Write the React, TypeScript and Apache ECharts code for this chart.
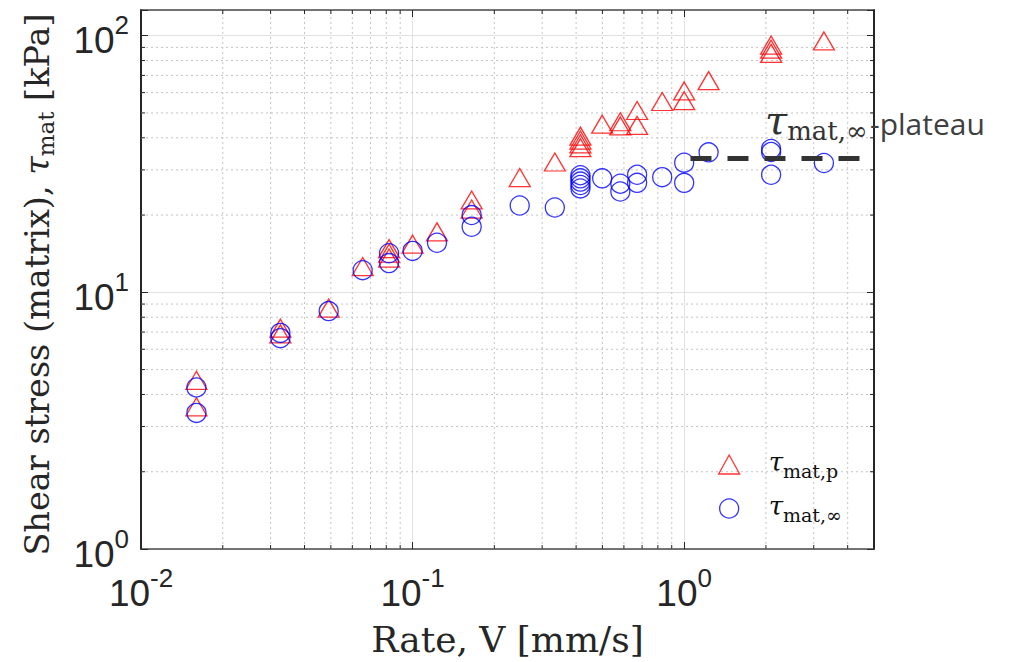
import React, { useEffect, useRef } from 'react';
import * as echarts from 'echarts';

// ---- axis ranges ----
const X_MIN = 0.01;
const X_MAX = 5;
const Y_MIN = 1;
const Y_MAX = 125.89;

// ---- data: peak matrix shear stress (triangles) ----
const rateP = [
  0.016, 0.016, 0.0326, 0.0326, 0.0491, 0.0655, 0.0819, 0.0819, 0.0819, 0.1, 0.123,
  0.165, 0.165, 0.248, 0.334, 0.415, 0.415, 0.415, 0.415, 0.499, 0.582, 0.582,
  0.671, 0.671, 0.83, 1.0, 1.0, 1.23, 2.09, 2.09, 2.09, 3.27,
];
const tauP = [
  4.54, 3.58, 7.25, 6.89, 8.68, 12.6, 14.8, 14.2, 13.6, 15.4, 17.2,
  22.9, 21.1, 28.0, 32.2, 40.6, 39.2, 37.9, 36.6, 45.2, 46.2, 44.5,
  51.1, 44.7, 55.4, 60.9, 55.8, 66.8, 91.9, 88.6, 85.3, 95.4,
];

// ---- data: residual matrix shear stress (circles) ----
const rateInf = [
  0.016, 0.016, 0.0326, 0.0326, 0.0491, 0.0655, 0.0819, 0.0819, 0.1, 0.123,
  0.165, 0.165, 0.248, 0.334, 0.415, 0.415, 0.415, 0.415, 0.415, 0.499, 0.582, 0.582,
  0.671, 0.671, 0.83, 1.0, 1.0, 1.23, 2.09, 2.09, 2.09, 3.27,
];
const tauInf = [
  4.26, 3.39, 6.95, 6.63, 8.45, 12.2, 14.2, 13.0, 14.5, 15.6,
  20.0, 18.0, 21.8, 21.4, 28.6, 27.8, 27.0, 26.2, 25.4, 27.8, 26.5, 24.7,
  28.7, 26.7, 28.1, 32.0, 26.7, 35.1, 36.2, 35.2, 28.7, 31.9,
];

// ---- plateau line ----
const plateauRate = [1.055, 4.46];
const plateauTau = [33.2, 33.2];

// ---- minor ticks (log decades) ----
const xMinor = [0.02, 0.03, 0.04, 0.05, 0.06, 0.07, 0.08, 0.09, 0.2, 0.3, 0.4, 0.5, 0.6, 0.7, 0.8, 0.9, 2, 3, 4];
const yMinor = [2, 3, 4, 5, 6, 7, 8, 9, 20, 30, 40, 50, 60, 70, 80, 90];

const NAME_P = 'τmat,p';
const NAME_INF = 'τmat,∞';

const AX = '#262626';
const SERIF = 'DejaVu Serif';
const SANS = 'Liberation Sans';

const zip = (a: number[], b: number[]) => a.map((v, i) => [v, b[i]]);

const powLabel = (v: number) => {
  const e = Math.log10(v);
  const r = Math.round(e);
  if (Math.abs(e - r) > 1e-6) return '';
  return `{b|10}{s|${r}}`;
};

const tickRich = {
  b: { fontFamily: SANS, fontSize: 37, color: AX, padding: [10, 0, 0, 0], verticalAlign: 'bottom' },
  s: { fontFamily: SANS, fontSize: 26, color: AX, verticalAlign: 'top' },
};

export default function App() {
  const ref = useRef<HTMLDivElement>(null);
  useEffect(() => {
    if (!ref.current) return;
    const chart = echarts.init(ref.current, undefined, { renderer: 'svg' });

    const frameAxisX = (pos: 'bottom' | 'top', main: boolean) => ({
      type: 'log',
      logBase: 10,
      min: X_MIN,
      max: X_MAX,
      position: pos,
      axisLine: { show: true, onZero: false, lineStyle: { color: '#4a4a4a', width: 1.5 } },
      axisTick: { show: true, inside: true, length: 7, lineStyle: { color: AX, width: 1 } },
      axisLabel: main
        ? { show: true, margin: 16, formatter: powLabel, rich: tickRich }
        : { show: false },
      splitLine: main ? { show: true, lineStyle: { color: '#e2e2e2', width: 1 } } : { show: false },
      minorTick: { show: false },
      minorSplitLine: { show: false },
      ...(main
        ? {
            name: 'Rate, V [mm/s]',
            nameLocation: 'middle',
            nameGap: 72,
            nameTextStyle: { fontFamily: SERIF, fontSize: 36, color: AX },
          }
        : {}),
    });

    const frameAxisY = (pos: 'left' | 'right', main: boolean) => ({
      type: 'log',
      logBase: 10,
      min: Y_MIN,
      max: Y_MAX,
      position: pos,
      axisLine: { show: true, onZero: false, lineStyle: { color: AX, width: 2 } },
      axisTick: { show: true, inside: true, length: 7, lineStyle: { color: AX, width: 1 } },
      axisLabel: main
        ? { show: true, margin: 12, formatter: powLabel, rich: tickRich }
        : { show: false },
      splitLine: main ? { show: true, lineStyle: { color: '#e2e2e2', width: 1 } } : { show: false },
      minorTick: { show: false },
      minorSplitLine: { show: false },
      ...(main
        ? {
            name: '{a|Shear stress (matrix), }{t|τ}{s|mat}{a| [kPa]}',
            nameLocation: 'middle',
            nameRotate: 90,
            nameGap: 84,
            nameTextStyle: {
              color: AX,
              padding: [0, 10, 0, 0],
              rich: {
                a: { fontFamily: SERIF, fontSize: 33.5, color: AX, verticalAlign: 'top' },
                t: { fontFamily: SERIF, fontStyle: 'italic', fontSize: 33.5, color: AX, verticalAlign: 'top' },
                s: { fontFamily: SERIF, fontSize: 23, color: AX, padding: [14, 0, 0, 0], verticalAlign: 'bottom' },
              },
            },
          }
        : {}),
    });

    const dotted = { stroke: '#c4c4c4', lineWidth: 1, lineDash: [2, 3] };

    const option: any = {
      animation: false,
      backgroundColor: '#ffffff',
      grid: { left: 141, top: 10, width: 733, height: 541, containLabel: false },
      xAxis: [frameAxisX('bottom', true), frameAxisX('top', false)],
      yAxis: [frameAxisY('left', true), frameAxisY('right', false)],
      legend: {
        orient: 'vertical',
        left: 713,
        top: 444,
        itemWidth: 21,
        itemHeight: 19,
        itemGap: 13,
        data: [
          { name: NAME_P, icon: 'triangle', itemStyle: { color: 'transparent', borderColor: '#ff0000', borderWidth: 1.3 } },
          { name: NAME_INF, icon: 'circle', itemStyle: { color: 'transparent', borderColor: '#0000ff', borderWidth: 1.3 } },
        ],
        formatter: (name: string) => (name === NAME_P ? '{t|τ}{s|mat,p}' : '{t|τ}{s|mat,∞}'),
        textStyle: {
          rich: {
            t: { fontFamily: SERIF, fontStyle: 'italic', fontSize: 26, color: '#111', verticalAlign: 'top', padding: [0, 0, 0, 24] },
            s: { fontFamily: SERIF, fontSize: 19, color: '#111', padding: [12, 0, 0, 0], verticalAlign: 'bottom' },
          },
        },
      },
      graphic: [
        {
          type: 'text',
          x: 765,
          y: 100,
          z: 100,
          style: {
            text: '{t|τ}{s|mat,∞}',
            verticalAlign: 'top',
            rich: {
              t: { fontFamily: SERIF, fontStyle: 'italic', fontSize: 40, fill: '#333333', verticalAlign: 'top' },
              s: { fontFamily: SERIF, fontSize: 26, fill: '#333333', padding: [18, 0, 0, 0], verticalAlign: 'bottom' },
            },
          },
        },
        {
          type: 'text',
          x: 870,
          y: 138,
          z: 100,
          style: { text: '-plateau', fontFamily: 'Open Sans', fontSize: 30, fill: '#404040', verticalAlign: 'bottom' },
        },
      ],
      series: [
        {
          type: 'custom',
          name: 'xminor',
          xAxisIndex: 0,
          yAxisIndex: 0,
          z: 1,
          silent: true,
          data: xMinor.map((v) => [v, Y_MIN]),
          renderItem: (params: any, api: any) => {
            const x = api.value(0);
            const p0 = api.coord([x, Y_MIN]);
            const p1 = api.coord([x, Y_MAX]);
            return {
              type: 'group',
              children: [
                { type: 'line', shape: { x1: p0[0], y1: p0[1], x2: p1[0], y2: p1[1] }, style: dotted },
                { type: 'line', shape: { x1: p0[0], y1: p0[1], x2: p0[0], y2: p0[1] - 4 }, style: { stroke: AX, lineWidth: 1 } },
                { type: 'line', shape: { x1: p1[0], y1: p1[1], x2: p1[0], y2: p1[1] + 4 }, style: { stroke: AX, lineWidth: 1 } },
              ],
            };
          },
        },
        {
          type: 'custom',
          name: 'yminor',
          xAxisIndex: 0,
          yAxisIndex: 0,
          z: 1,
          silent: true,
          data: yMinor.map((v) => [X_MIN, v]),
          renderItem: (params: any, api: any) => {
            const y = api.value(1);
            const p0 = api.coord([X_MIN, y]);
            const p1 = api.coord([X_MAX, y]);
            return {
              type: 'group',
              children: [
                { type: 'line', shape: { x1: p0[0], y1: p0[1], x2: p1[0], y2: p1[1] }, style: dotted },
                { type: 'line', shape: { x1: p0[0], y1: p0[1], x2: p0[0] + 4, y2: p0[1] }, style: { stroke: AX, lineWidth: 1 } },
                { type: 'line', shape: { x1: p1[0], y1: p1[1], x2: p1[0] - 4, y2: p1[1] }, style: { stroke: AX, lineWidth: 1 } },
              ],
            };
          },
        },
        {
          type: 'scatter',
          name: NAME_P,
          symbol: 'triangle',
          symbolSize: [21, 18],
          z: 3,
          itemStyle: { color: 'transparent', borderColor: '#ff0000', borderWidth: 1.3 },
          data: zip(rateP, tauP),
        },
        {
          type: 'scatter',
          name: NAME_INF,
          symbol: 'circle',
          symbolSize: 19,
          z: 3,
          itemStyle: { color: 'transparent', borderColor: '#0000ff', borderWidth: 1.3 },
          data: zip(rateInf, tauInf),
        },
        {
          type: 'line',
          name: 'plateau',
          z: 4,
          symbol: 'none',
          lineStyle: { color: '#333333', width: 5, type: [21, 16] },
          data: zip(plateauRate, plateauTau),
        },
      ],
    };
    chart.setOption(option);
    return () => chart.dispose();
  }, []);
  return (
    <div
      ref={ref}
      style={{ position: 'absolute', left: 0, top: 0, width: 1017, height: 662, background: '#fff' }}
    />
  );
}
